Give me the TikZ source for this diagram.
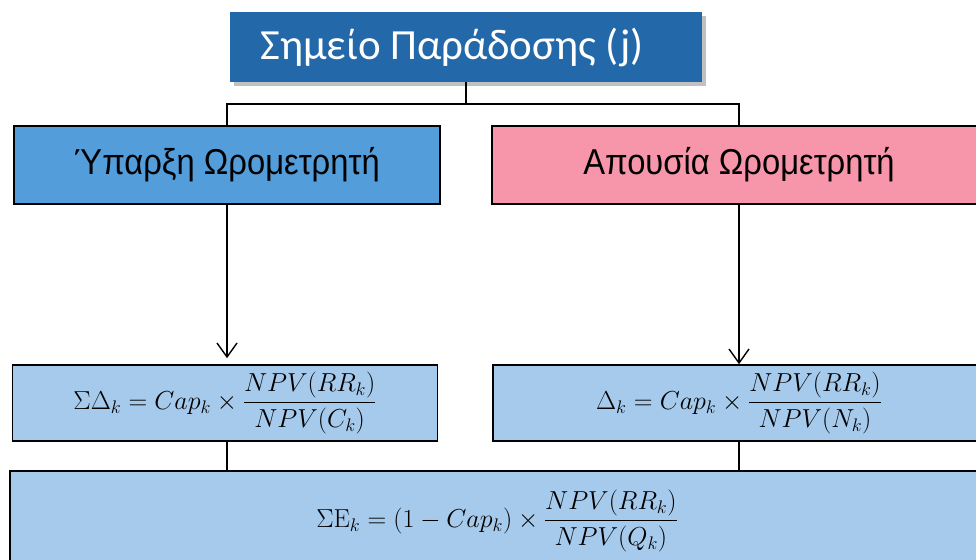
\RequirePackage{fix-cm}
\documentclass[tikz,border=0pt]{standalone}
\usepackage[no-math]{fontspec}
\usepackage{amsmath}
\newfontfamily\carlito{Carlito}
\newfontfamily\narrowsans[FakeStretch=0.91]{Liberation Sans}
\usetikzlibrary{arrows.meta,shadows,calc}
\definecolor{topblue}{RGB}{35,104,168}
\definecolor{midblue}{RGB}{83,157,219}
\definecolor{pinkbox}{RGB}{247,149,170}
\definecolor{formblue}{RGB}{166,202,236}
\tikzset{
  topbox/.style={fill=topblue, text=white, inner sep=0pt,
    drop shadow={shadow xshift=4pt, shadow yshift=-4pt, opacity=0.4, fill=black!60},
    font=\carlito\fontsize{43}{50}\selectfont},
  catbox/.style={draw=black, line width=1.6pt, inner sep=0pt,
    font=\narrowsans\fontsize{36}{42}\selectfont},
  formbox/.style={draw=black, line width=1.6pt, fill=formblue, inner sep=0pt,
    font=\fontsize{26}{30}\selectfont},
  conn/.style={draw=black, line width=1.4pt},
  arr/.style={conn, -{Straight Barb[length=14pt, width=20pt, line width=1.4pt]}}
}
\begin{document}
\begin{tikzpicture}[x=1pt, y=-1pt]
\clip (0,0) rectangle (976,559);
\fill[white] (0,0) rectangle (976,559);
\node[topbox, minimum width=472pt, minimum height=70pt] (top) at (466,47) {Σημείο Παράδοσης (j)\kern28pt};
\node[catbox, fill=midblue, minimum width=426pt, minimum height=78pt] (left) at (227,165) {Ύπαρξη Ωρομετρητή};
\node[catbox, fill=pinkbox, minimum width=494pt, minimum height=78pt] (right) at (739,165) {Απουσία Ωρομετρητή};
\node[formbox, minimum width=425pt, minimum height=76pt] (f1) at (225,403)
  {$\displaystyle \Sigma\Delta_k = Cap_k \times \frac{NPV(RR_k)}{NPV(C_k)}$};
\node[formbox, minimum width=492pt, minimum height=76pt] (f2) at (739,403)
  {$\displaystyle \Delta_k = Cap_k \times \frac{NPV(RR_k)}{NPV(N_k)}$};
\node[formbox, minimum width=974pt, minimum height=100pt] (bot) at (497,521)
  {$\displaystyle \Sigma\mathrm{E}_k = (1 - Cap_k) \times \frac{NPV(RR_k)}{NPV(Q_k)}$};
\coordinate (jn) at (466,104);
\draw[conn] (top.south) -- (jn);
\draw[conn] (left.north) |- (jn) -| (right.north);
\draw[arr, shorten >=6pt] (left.south) -- (left.south |- f1.north);
\draw[arr] (right.south) -- (right.south |- f2.north);
\draw[conn] (left.south |- f1.south) -- (left.south |- bot.north);
\draw[conn] (f2.south) -- (f2.south |- bot.north);
\end{tikzpicture}
\end{document}
